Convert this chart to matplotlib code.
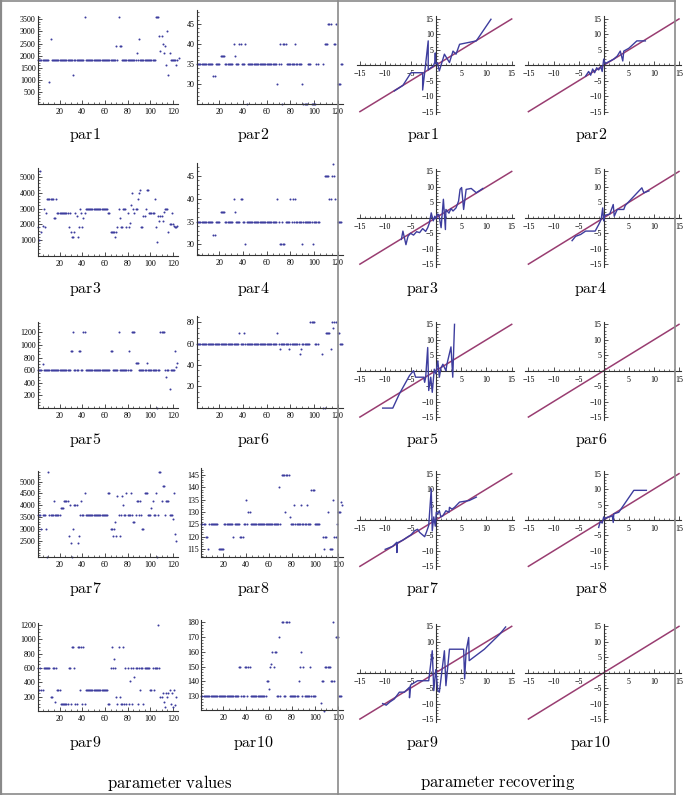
import numpy as np
import matplotlib
matplotlib.use('Agg')
import matplotlib.pyplot as plt
from matplotlib.lines import Line2D
from matplotlib.ticker import MultipleLocator, FixedLocator

nan = np.nan

# ---------------- parameter values (index 1..N) ----------------
par1_values = ([1800]*10 + [900, 2700] + [1800]*19 + [1200] + [1800]*9 + [3600] + [1800]*27 +
               [2400, 1800, 3600, 2400, 2400] + [1800]*13 + [2100, 1800, 2700] + [1800]*14 +
               [3600, 3600, 3600, 2800, 2200, 2800, 2500, 2100, 2400, 1600, 3000, 1200, 2100] +
               [1800]*5 + [1600, 1800, 1900])
par2_values = ([35]*14 + [32, 32] + [35]*4 + [37]*4 + [35]*7 + [40, 37] + [35]*3 + [40, 40] + [35]*3 +
               [40, 25] + [35]*25 + [30, 35, 40, 35, 25, 40, 40, 40] + [35]*7 + [40] + [35]*5 +
               [30, 25, 25, 25, 25] + [35]*3 + [25]*4 + [35]*2 + [nan]*4 + [35] + [40]*3 + [45]*3 +
               [nan]*2 + [40, 40, 45] + [30]*3 + [35]*2)
par3_values = ([1800, 1000, 5400, 1500, 1900, 3000, 1800, 2700] + [3600]*6 + [2400]*2 + [3600] + [2700]*10 +
               [1800, 2700, 1500, 1200, 1200, 1500, 2700, 2500, 1200, 1800, 3000, 2700, 1800, 2400, 2700] +
               [3000]*20 + [2700]*2 + [1500]*4 +
               [1200, 1500, 1800, 3000, 2400, 1800, 1800, 3000, 3000, 3000, 1800, 2700, 1800, 2100, 3200,
                4000, 3000, 2700, 3000, 3000, 3600, 4000, 4200, 1800, 1800, 2500, 2500, 3000, 4200, 4200] +
               [2700]*5 +
               [3600, 1800, 900, 2500, 2200, 2500, 2500, 2200, 2800, 3000, 3000, 3000, 1500, 2000, 2000,
                2700, 2000, 1900, 1800, 1800, 1900])
par4_values = ([35]*14 + [32]*2 + [35]*4 + [37]*4 + [35]*7 + [40, 37] + [35]*4 + [40]*2 + [35]*2 + [30] +
               [35]*26 + [40, 35, 30, 30, 35, 30, 30] + [35]*4 + [40, 35, 40, 35, 40] + [35]*5 + [30] +
               [35]*8 + [30] + [35]*4 + [35] + [nan]*4 + [45]*4 + [40]*2 + [45, 47.5, 45, 40] + [nan] + [35]*4)
par5_values = ([600]*4 + [700] + [600]*24 + [900, 900, 1200] + [600]*4 + [900]*2 + [600]*2 + [1200]*2 +
               [600]*22 + [900]*2 + [600]*5 + [1200] + [600]*8 + [900] + [600]*2 + [1200]*3 + [720]*3 +
               [600]*7 + [720] + [600]*8 + [0] + [600]*2 + [1200]*4 +
               [600, 500, 600, 600, 300, 600, 600, 600, 600, 900, 650, 720])
par6_values = ([60]*36 + [70] + [60]*3 + [70] + [60]*27 + [70] + [60] + [55] + [60]*7 + [55] + [60]*8 +
               [50, 55] + [60]*7 + [80]*4 + [60]*3 + [nan]*3 + [50] + [0]*2 + [70]*4 + [55] +
               [80, 75, 80] + [nan] + [80] + [70]*2 + [60]*3)
par7_values = ([3600]*3 + [3000] + [3600]*3 + [3000] + [1800] + [5400] + [3600]*4 + [4200] + [3600]*5 +
               [3900]*3 + [4200]*4 + [2700] + [4000] + [2400] + [1800] + [3000] + [4000]*3 +
               [2400, 2700, 3600, 4200, 3600, 3600, 4500] + [3600]*20 + [4500]*2 +
               [3000, 3000, 2700, 3000, 3300, 2700, 4400, 3600, 2700, 3600, 4400, 4000, 3600, 3600, 4500,
                3600, 3600, 3600, 4500, 3600, 3300, 3300, 3600, 4200, 4200, 3600, 4200, 3600, 3000, 3000,
                4500, 4500, 4500, 3600, 3600, 3600, 3900, 4200, 3600, 3600, 4500, 1800, 3600, 5400, 5400,
                4200, 4800, 4800, 3600, 4200, 4200, 4200, 3600, 3600, 3600, 3400, 4500, 2800, 2500])
par8_values = ([125]*4 + [120]*2 + [115] + [125]*8 + [115]*5 + [125]*8 + [120] + [125]*5 + [120]*3 +
               [125]*2 + [135] + [125] + [130]*2 + [125]*25 + [140] + [125] + [145]*3 + [130] + [145]*3 +
               [128] + [125]*3 + [133] + [125]*5 + [133] + [125]*4 + [133] + [125]*3 + [139]*3 + [125]*5 +
               [nan]*2 + [120] + [115] + [120]*2 + [130] + [nan] + [115]*3 + [135] + [120]*2 + [125] +
               [130]*3 + [134] + [133])
par9_values = ([600, 300, 600, 300, 300, 600, 600, 600, 600, 600, 600, 190, 190, 600, 600, 125, 600, 300, 300, 300] +
               [100]*7 + [600, 600, 100, 900, 900, 600, 100, 100, 900, 900, 300, 900, 100, 900, 100] +
               [300]*20 +
               [100, 100, 600, 900, 600, 720, 600, 200, 100, 900, 200, 100, 100, 900, 100, 600, 100, 600, 100,
                420, 600, 100, 600, 480, 600, 600, 100, 600, 300, 600, 600, 100] +
               [600]*5 + [300, 300, 600, 300] + [600]*3 +
               [1200, 600, 190, 190, 250, 120, 50, 250, 200, 250, 300, 100, 250, 50, 300, 80, 200])
par10_values = ([130]*33 + [150]*2 + [130]*3 + [150]*2 + [130] + [150]*2 + [130]*14 +
                [140, 140, 135, 150, 152, 160, 150, 160, 160, 130, 130, 170, 130, 180, 180, 130, 130, 180,
                 180, 180, 130, 130] + [130]*6 + [140, 150, 160, 130, 150] + [130]*5 + [150] + [130]*4 +
                [nan]*4 + [125, 140, 140, 120] + [150]*5 + [140, 140, 180, 140, 170, 170, 170] + [130]*3)

value_series = [par1_values, par2_values, par3_values, par4_values, par5_values,
                par6_values, par7_values, par8_values, par9_values, par10_values]
value_ylims = [(0, 3640), (25, 48.4), (0, 5580), (27.7, 47.7), (0, 1370),
               (0, 86), (1797, 5450), (111.6, 147.7), (0, 1230), (120.5, 181.6)]
value_yticks = [[500, 1000, 1500, 2000, 2500, 3000, 3500], [30, 35, 40, 45],
                [1000, 2000, 3000, 4000, 5000], [30, 35, 40, 45],
                [200, 400, 600, 800, 1000, 1200], [20, 40, 60, 80],
                [2500, 3000, 3500, 4000, 4500, 5000], [115, 120, 125, 130, 135, 140, 145],
                [200, 400, 600, 800, 1000, 1200], [130, 140, 150, 160, 170, 180]]
value_yminor = [100, 1, 200, 1, 50, 5, 100, 1, 50, 2]
value_xticks = [20, 40, 60, 80, 100, 120]

# ---------------- parameter recovering (x, y) ----------------
rec1_x = [-8.2, -6.5, -4.9, -3.5, -2.6, -2.6, -2.2, -1.5, -1.5, -1.0, -0.5, -0.2, -0.1, 0.0, 0.3, 0.7, 1.7, 2.7, 3.4, 4.0, 4.7, 8.0, 10.9]
rec1_y = [-8.3, -6.5, -2.4, -2.4, -2.4, -8.0, -2.4, 7.9, -1.5, -0.8, -0.3, 1.0, 4.0, 0.5, 0.8, -1.8, 3.6, 0.9, 4.6, 3.6, 6.8, 7.9, 14.9]
rec2_x = [-3.6, -3.0, -2.6, -2.2, -1.8, -1.4, -1.0, -0.6, -0.3, 0.0, 0.3, 0.8, 1.3, 2.0, 2.7, 3.3, 3.8, 4.0, 5.0, 6.6, 8.3]
rec2_y = [-3.5, -2.0, -3.2, -1.2, -2.4, -0.8, -1.5, -0.4, -2.0, 2.0, 0.5, 1.0, 1.4, 2.0, 3.0, 4.6, 1.4, 4.6, 5.5, 7.9, 7.9]
rec3_x = [-6.8, -6.5, -5.9, -5.5, -5.0, -4.4, -3.8, -3.2, -2.6, -2.0, -1.6, -1.25, -0.9, -0.5, -0.2, 0.0, 0.3, 0.6, 1.05, 1.5, 1.9, 2.0, 2.6, 3.0, 3.4, 4.0, 4.5, 4.8, 5.1, 5.5, 6.0, 7.0, 8.0, 9.3]
rec3_y = [-7.0, -4.3, -8.7, -6.0, -5.0, -5.6, -4.5, -4.8, -3.5, -4.4, -3.2, -1.6, 1.6, -1.0, 0.5, -0.3, 1.2, 1.0, -3.2, 6.0, -3.8, 2.7, 1.5, 3.0, 2.2, 3.2, 5.4, 9.2, 9.8, 2.7, 9.2, 9.5, 8.1, 9.5]
rec4_x = [-6.3, -5.6, -4.6, -3.6, -2.6, -1.7, -1.0, -0.5, -0.2, 0.0, 0.2, 0.7, 1.2, 1.9, 2.1, 2.7, 3.5, 4.0, 4.3, 7.6, 8.0, 9.0]
rec4_y = [-7.4, -6.0, -5.4, -4.3, -4.3, -4.3, -2.2, -0.5, 3.2, -1.0, 0.8, 1.0, 1.2, 4.3, 0.5, 2.7, 2.7, 2.7, 4.0, 9.7, 8.1, 8.7]
rec5_x = [-10.5, -8.5, -7.2, -5.2, -4.4, -4.0, -2.4, -2.2, -2.0, -1.6, -1.4, -1.0, -0.7, -0.3, 0.0, 0.4, 0.7, 1.0, 1.4, 2.0, 2.2, 3.0, 3.35, 3.7]
rec5_y = [-12.1, -12.1, -7.5, -1.6, 0.0, -2.1, -2.1, -3.75, -2.1, 7.5, -6.4, -2.1, -7.0, 0.5, -1.0, 3.2, -2.1, 0.8, 2.1, 0.0, 2.1, 7.7, -2.1, 15.0]
rec6_x = []
rec6_y = []
rec7_x = [-10.0, -8.5, -7.7, -7.7, -7.7, -6.5, -5.5, -4.9, -4.2, -3.6, -3.2, -2.2, -1.8, -1.4, -0.9, -0.7, -0.4, -0.1, 0.1, 0.4, 0.7, 1.0, 1.4, 2.0, 2.6, 2.7, 3.2, 3.7, 4.7, 6.6, 8.0]
rec7_y = [-9.5, -8.5, -7.2, -10.5, -7.5, -6.5, -5.4, -4.8, -3.5, -3.0, -4.0, -5.4, -3.7, -1.8, 10.1, -3.5, 1.0, -2.0, 2.5, 2.0, 3.0, 1.0, 1.4, 3.0, 2.5, 4.1, 3.5, 4.1, 5.8, 6.3, 7.4]
rec8_x = [-1.0, -0.7, -0.3, 0.0, 0.3, 0.7, 1.2, 1.7, 1.9, 2.0, 3.0, 6.0, 8.5]
rec8_y = [-2.4, -0.5, -1.0, 1.0, 0.3, 0.9, 1.0, 1.4, -0.8, 2.0, 2.5, 9.6, 9.6]
rec9_x = [-10.5, -9.8, -9.1, -8.2, -7.2, -6.2, -5.2, -5.2, -5.0, -3.6, -1.4, -0.7, -0.4, 0.0, 0.4, 0.7, 1.7, 2.0, 2.7, 5.5, 5.7, 6.0, 6.5, 6.6, 9.6, 12.6, 13.8]
rec9_y = [-10.0, -10.5, -9.5, -8.5, -6.3, -6.3, -4.7, -8.1, -4.0, -2.6, -2.6, 7.1, -5.8, 1.0, -5.8, -6.3, 7.1, -4.2, 7.6, 7.6, -2.0, 7.1, 11.4, 3.9, 7.6, 12.4, 14.8]
rec10_x = []
rec10_y = []
rec_series = [(rec1_x, rec1_y), (rec2_x, rec2_y), (rec3_x, rec3_y), (rec4_x, rec4_y), (rec5_x, rec5_y),
              (rec6_x, rec6_y), (rec7_x, rec7_y), (rec8_x, rec8_y), (rec9_x, rec9_y), (rec10_x, rec10_y)]
diag_x = [-15, 15]
rec_ticks = [-15, -10, -5, 5, 10, 15]

names = ['par1', 'par2', 'par3', 'par4', 'par5', 'par6', 'par7', 'par8', 'par9', 'par10']

BLUE = (0.24, 0.24, 0.62)
PURPLE = (0.6, 0.24, 0.442)
AXC = '#333333'

plt.rcParams['mathtext.fontset'] = 'cm'
plt.rcParams['font.family'] = ['Liberation Serif', 'DejaVu Serif']
plt.rcParams['axes.unicode_minus'] = True

W, H = 685, 795
fig = plt.figure(figsize=(W / 100, H / 100), dpi=100)
fig.patch.set_facecolor('white')


def add_ax(x0, x1, yt, yb):
    ax = fig.add_axes([x0 / W, 1 - yb / H, (x1 - x0) / W, (yb - yt) / H])
    ax.patch.set_alpha(0)
    return ax


def flabel(x, y, s, size=11.5):
    fig.text(x / W, 1 - y / H, s, ha='center', va='center', fontsize=size)


# pixel rects for value panels: (x0, x1, ytop, ybottom)
value_rects = [(37.7, 178, 16, 104), (196.5, 343, 10, 104),
               (37.7, 178, 168, 255.7), (196.5, 343, 163.3, 255),
               (37.7, 178, 321.7, 408), (196.5, 343, 316, 407.7),
               (37.7, 178, 471, 557.3), (201, 343, 468.3, 557.3),
               (37.7, 178, 623, 711), (201, 343, 620, 710)]
label_y = [135, 288.5, 440, 589, 742.5]

for k in range(10):
    x0, x1, yt, yb = value_rects[k]
    ax = add_ax(x0, x1, yt, yb)
    vals = np.array(value_series[k], dtype=float)
    idx = np.arange(1, len(vals) + 1)
    ax.plot(idx, vals, linestyle='none', marker='o', markersize=1.45, markeredgewidth=0,
            color=BLUE, clip_on=False)
    ax.set_xlim(0.7, 124.5)
    ax.set_ylim(*value_ylims[k])
    for s in ['top', 'right']:
        ax.spines[s].set_visible(False)
    for s in ['left', 'bottom']:
        ax.spines[s].set_linewidth(0.8)
        ax.spines[s].set_color(AXC)
    ax.xaxis.set_major_locator(FixedLocator(value_xticks))
    ax.xaxis.set_minor_locator(MultipleLocator(5))
    ax.yaxis.set_major_locator(FixedLocator(value_yticks[k]))
    ax.yaxis.set_minor_locator(MultipleLocator(value_yminor[k]))
    ax.tick_params(which='major', direction='in', length=3, width=0.6, color=AXC, labelsize=5.8)
    ax.tick_params(which='minor', direction='in', length=1.6, width=0.5, color=AXC)
    ax.tick_params(axis='x', which='major', pad=3)
    ax.tick_params(axis='y', which='major', pad=1.5)
    row, col = divmod(k, 2)
    flabel(85 if col == 0 else 253, label_y[row], r'$\mathrm{' + names[k] + '}$')

# recovering panels
rec_cx = [435.8, 603.7]
rec_sx = [5.06, 5.02]
rec_cy = [65.3, 217.8, 370.7, 520.0, 672.7]
rec_sy = 3.09
XL = (-15.6, 15.4)
YL = (-15.8, 15.8)
rec_label_x = [422.5, 590.7]

for k in range(10):
    row, col = divmod(k, 2)
    cx, sx, cy = rec_cx[col], rec_sx[col], rec_cy[row]
    ax = add_ax(cx + XL[0] * sx, cx + XL[1] * sx, cy - YL[1] * rec_sy, cy - YL[0] * rec_sy)
    ax.set_xlim(*XL)
    ax.set_ylim(*YL)
    ax.plot(diag_x, diag_x, color=PURPLE, lw=1.1, clip_on=False, zorder=2)
    rx, ry = rec_series[k]
    if len(rx):
        ax.plot(rx, ry, color=BLUE, lw=1.0, clip_on=False, zorder=3)
    ax.spines['left'].set_position(('data', 0))
    ax.spines['bottom'].set_position(('data', 0))
    for s in ['top', 'right']:
        ax.spines[s].set_visible(False)
    for s in ['left', 'bottom']:
        ax.spines[s].set_linewidth(0.8)
        ax.spines[s].set_color(AXC)
    ax.set_xticks(rec_ticks)
    ax.set_yticks(rec_ticks)
    ax.xaxis.set_minor_locator(MultipleLocator(1))
    ax.yaxis.set_minor_locator(MultipleLocator(1))
    ax.tick_params(which='major', direction='in', length=3, width=0.6, color=AXC, labelsize=5.8)
    ax.tick_params(which='minor', direction='in', length=1.6, width=0.5, color=AXC)
    ax.tick_params(axis='x', which='major', pad=3.5)
    ax.tick_params(axis='y', which='major', pad=1.5)
    flabel(rec_label_x[col], label_y[row], r'$\mathrm{' + names[k] + '}$')

flabel(170, 783, r'$\mathrm{parameter\ values}$', size=12)
flabel(498, 783, r'$\mathrm{parameter\ recovering}$', size=12)

# frame and divider
FC = '#8a8a8a'
def fline(xa, ya, xb, yb, lw=1.2):
    fig.add_artist(Line2D([xa / W, xb / W], [1 - ya / H, 1 - yb / H], transform=fig.transFigure,
                          color=FC, lw=lw, zorder=5))

fline(1.2, 1, 674.5, 1)
fline(1.2, 793.5, 674.5, 793.5)
fline(1.2, 1, 1.2, 793.5, lw=1.6)
fline(674.5, 1, 674.5, 793.5)
fline(337.7, 1, 337.7, 793.5)

fig.savefig('out.png', dpi=100)
